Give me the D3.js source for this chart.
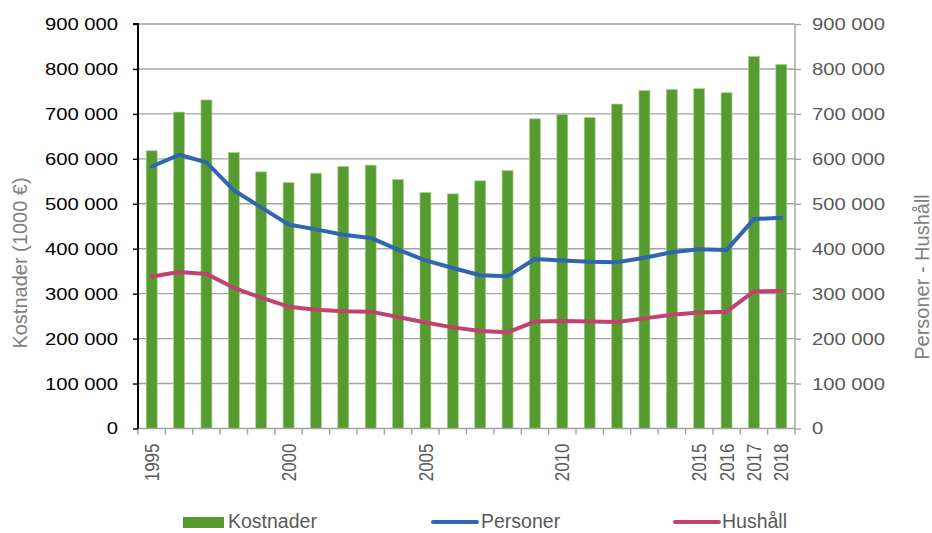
<!DOCTYPE html>
<html>
<head>
<meta charset="utf-8">
<script src="https://cdn.jsdelivr.net/npm/d3@7"></script>
<style>
  body { margin: 0; background: #fff; }
  svg { display: block; font-family: "Liberation Sans", Arial, sans-serif; }
</style>
</head>
<body>
<div id="chart"></div>
<script>
const years = ["1995", "1996", "1997", "1998", "1999", "2000", "2001", "2002",
  "2003", "2004", "2005", "2006", "2007", "2008", "2009", "2010", "2011", "2012",
  "2013", "2014", "2015", "2016", "2017", "2018"];
const kostnader = [618000, 704000, 731000, 614000, 571000, 547000, 568000, 583000,
  586000, 554000, 525000, 522000, 551000, 574000, 689000, 699000, 692000, 722000,
  752000, 754000, 756000, 747000, 828000, 810000];
const personer = [583000, 609000, 592000, 530000, 492000, 454000, 443000, 431000,
  424000, 398000, 374000, 357000, 341000, 339000, 377000, 374000, 371000, 370000,
  380000, 392000, 399000, 397000, 466000, 469000];
const hushall = [338000, 348000, 344000, 313000, 291000, 271000, 264000, 261000,
  260000, 248000, 236000, 225000, 217000, 214000, 238000, 239000, 238000, 237000,
  245000, 253000, 258000, 260000, 305000, 306000];
const yTicks = [0, 100000, 200000, 300000, 400000, 500000, 600000, 700000, 800000, 900000];
const xLabels = ["1995", "2000", "2005", "2010", "2015", "2016", "2017", "2018"];

const width = 932;
const height = 533;
const margin = { top: 24, right: 137, bottom: 104.5, left: 138 };
const innerW = width - margin.left - margin.right;
const innerH = height - margin.top - margin.bottom;

const colors = { bar: "#559b30", barEdge: "#a9d18e", personer: "#3065b0", hushall: "#c2426f" };
const stretch = 1.19; // tick labels in the reference are slightly wide

const fmt = d3.formatLocale({ decimal: ",", thousands: " ", grouping: [3], currency: ["", "€"] }).format(",");

const svg = d3.select("#chart").append("svg")
  .attr("width", width)
  .attr("height", height);
const g = svg.append("g").attr("transform", `translate(${margin.left},${margin.top})`);

const x = d3.scaleBand().domain(years).range([0, innerW]).paddingInner(0.6).paddingOuter(0.3);
const y = d3.scaleLinear().domain([0, 900000]).range([innerH, 0]);
const cx = (d) => x(d) + x.bandwidth() / 2;

// gridlines
g.append("g").selectAll("line")
  .data(yTicks.filter((d) => d > 0))
  .join("line")
  .attr("x1", 0).attr("x2", innerW)
  .attr("y1", (d) => y(d)).attr("y2", (d) => y(d))
  .attr("stroke", "#a3a3a3")
  .attr("stroke-width", 1.4);

// bars
g.append("g").selectAll("rect")
  .data(years.map((yr, i) => ({ yr, v: kostnader[i] })))
  .join("rect")
  .attr("x", (d) => x(d.yr))
  .attr("y", (d) => y(d.v))
  .attr("width", x.bandwidth())
  .attr("height", (d) => innerH - y(d.v))
  .attr("fill", colors.bar)
  .attr("stroke", colors.barEdge)
  .attr("stroke-width", 0.7);

// lines
const line = d3.line().x((d) => cx(d.yr)).y((d) => y(d.v));
[[personer, colors.personer], [hushall, colors.hushall]].forEach(([vals, col]) => {
  g.append("path")
    .datum(years.map((yr, i) => ({ yr, v: vals[i] })))
    .attr("d", line)
    .attr("fill", "none")
    .attr("stroke", col)
    .attr("stroke-width", 4)
    .attr("stroke-linejoin", "round")
    .attr("stroke-linecap", "round");
});

// x axis: baseline, boundary ticks, selected year labels
const xAxis = g.append("g").attr("transform", `translate(0,${innerH})`);
xAxis.append("line")
  .attr("x1", 0).attr("x2", innerW)
  .attr("stroke", "#a3a3a3").attr("stroke-width", 1.4);
xAxis.selectAll(".tick")
  .data(d3.range(years.length + 1))
  .join("line")
  .attr("class", "tick")
  .attr("x1", (i) => i * x.step()).attr("x2", (i) => i * x.step())
  .attr("y1", 0).attr("y2", 6)
  .attr("stroke", "#a3a3a3").attr("stroke-width", 1.4);
xAxis.selectAll("text")
  .data(xLabels)
  .join("text")
  .attr("transform", (d) => `translate(${cx(d)},15) scale(${stretch},1) rotate(-90)`)
  .attr("text-anchor", "end")
  .attr("dy", "0.35em")
  .attr("fill", "#595959")
  .attr("font-size", 17)
  .text((d) => d);

// left axis
const yLeft = g.append("g")
  .call(d3.axisLeft(y).tickValues(yTicks).tickSize(5).tickFormat(fmt));
yLeft.select(".domain").attr("stroke", "#000").attr("stroke-width", 2).attr("d", `M-5,0H0V${innerH}`);
yLeft.selectAll(".tick line").attr("stroke", "#000").attr("stroke-width", 1.4);
yLeft.selectAll(".tick text")
  .attr("x", null)
  .attr("transform", `translate(-20,0) scale(${stretch},1)`)
  .attr("fill", "#000")
  .attr("font-size", 17)
  .attr("font-family", "Liberation Sans, Arial, sans-serif");

// right axis
const yRight = g.append("g")
  .attr("transform", `translate(${innerW},0)`)
  .call(d3.axisRight(y).tickValues(yTicks).tickSize(6).tickFormat(fmt));
yRight.select(".domain").attr("stroke", "#a3a3a3").attr("stroke-width", 1.4).attr("d", `M0,0V${innerH}`);
yRight.selectAll(".tick line").attr("stroke", "#a3a3a3").attr("stroke-width", 1.4);
yRight.selectAll(".tick text")
  .attr("x", null)
  .attr("transform", `translate(17,0) scale(${stretch},1)`)
  .attr("fill", "#595959")
  .attr("font-size", 17)
  .attr("font-family", "Liberation Sans, Arial, sans-serif");

// axis titles
svg.append("text")
  .attr("transform", "translate(20,263) rotate(-90)")
  .attr("text-anchor", "middle")
  .attr("dy", "0.35em")
  .attr("fill", "#7f7f7f")
  .attr("font-size", 20)
  .text("Kostnader (1000 €)");
svg.append("text")
  .attr("transform", "translate(922,277) rotate(-90)")
  .attr("text-anchor", "middle")
  .attr("dy", "0.35em")
  .attr("fill", "#7f7f7f")
  .attr("font-size", 20)
  .text("Personer - Hushåll");

// legend (kept just inside the bottom edge)
const legendBase = 528;
const legend = svg.append("g").attr("font-size", 19.5).attr("fill", "#595959");
legend.append("rect")
  .attr("x", 183).attr("y", legendBase - 11).attr("width", 41).attr("height", 11)
  .attr("fill", colors.bar);
legend.append("text").attr("x", 228).attr("y", legendBase).text("Kostnader");
[[433, 477, colors.personer, 481, "Personer"], [675, 719, colors.hushall, 722, "Hushåll"]]
  .forEach(([x1, x2, col, tx, label]) => {
    legend.append("line")
      .attr("x1", x1).attr("x2", x2).attr("y1", legendBase - 6).attr("y2", legendBase - 6)
      .attr("stroke", col).attr("stroke-width", 4).attr("stroke-linecap", "round");
    legend.append("text").attr("x", tx).attr("y", legendBase).text(label);
  });
</script>
</body>
</html>
